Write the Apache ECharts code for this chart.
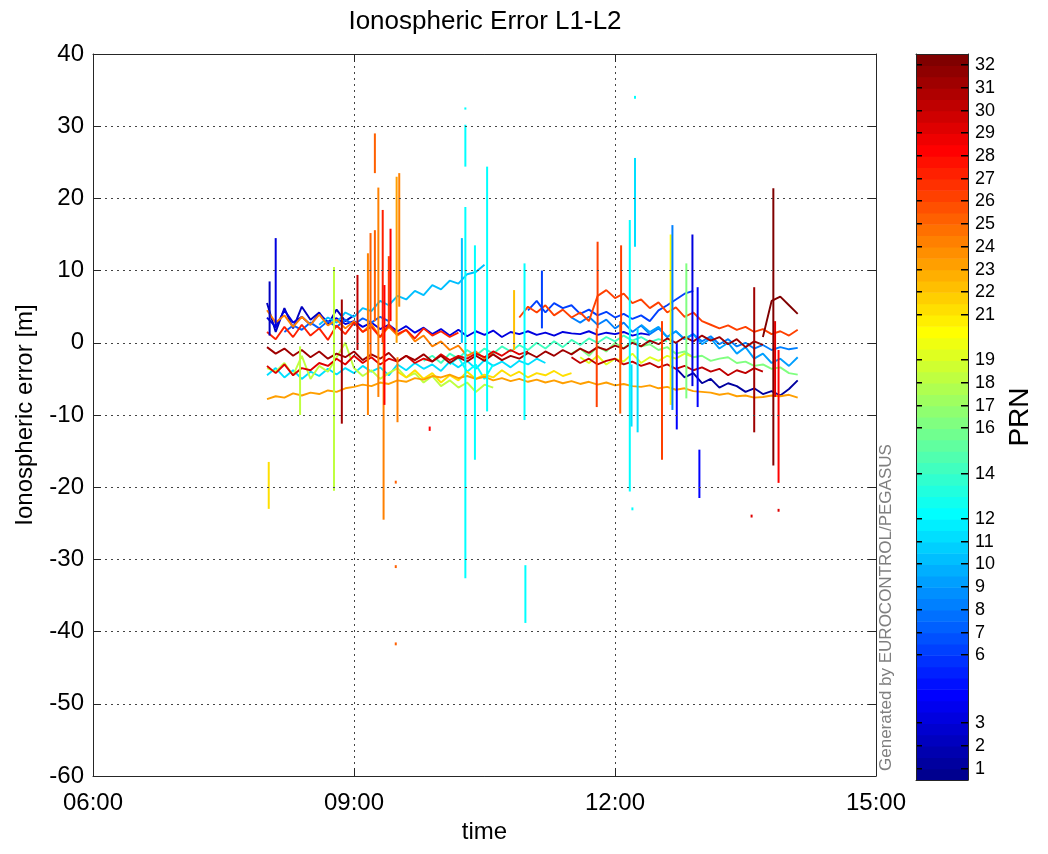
<!DOCTYPE html>
<html><head><meta charset="utf-8">
<script src="https://cdn.jsdelivr.net/npm/echarts@6/dist/echarts.min.js"></script>
<style>html,body{margin:0;padding:0;background:#fff}#c{width:1048px;height:854px}</style>
</head><body><div id="c"></div>
<script>
// ---------- axis / tick data ----------
const xTicksHours = [6, 9, 12, 15];
const yMin = -60, yMax = 40, yStep = 10;
const prnTicks = [1,2,3,6,7,8,9,10,11,12,14,16,17,18,19,21,22,23,24,25,26,27,28,29,30,31,32];
const timeStep = 0.1; // hours between samples of each track

// ---------- track values (ionospheric error, m), sampled every 0.1 h from start ----------
const startPRN01 = 12.7;
const valPRN01 = [-3.5,-4.8,-4.2,-5.6,-5.0,-6.2,-5.6,-6.0,-6.8,-6.3,-7.1,-6.7,-7.3,-6.4,-5.2];
const startPRN02 = 8.0;
const valPRN02 = [5.5,1.5,4.8,2.0,5.0,3.2,4.2,2.5,4.6,3.0,3.8];
const startPRN03 = 8.0;
const valPRN03 = [3.5,2.2,4.5,2.8,3.6,2.5,4.0,2.9,3.4,2.6,3.0,2.2,2.8,1.9,2.5,1.6,2.3,1.4,2.1,1.2,1.9,1.0,1.8,0.9,1.6,1.1,1.7,0.8,1.5,1.2,1.6,1.1,1.4,1.0,1.5,1.3,1.2,1.6,1.1,1.4,1.2,1.5,1.0,1.3,1.1];
const startPRN06 = 11.0;
const valPRN06 = [4.5,5.8,4.2,5.5,4.8,5.2,4.0,4.6,3.8,4.3,3.5,4.0,3.3,3.8,3.0,4.5,5.2,6.0,6.8,7.2];
const startPRN07 = 8.2;
const valPRN07 = [1.5,2.4,1.8,2.8,2.0,3.0,2.2,3.2,2.5,3.4,2.8,3.6,3.0];
const startPRN08 = 11.5;
const valPRN08 = [3.5,2.8,3.6,2.5,3.2,2.0,2.8,1.5,2.4,1.2,2.0,0.8,1.6,0.5,1.2,0.2,0.9,-0.2,0.5,-0.5,0.0,-0.8,-0.3,-1.0,-0.6,-0.9,-0.7];
const startPRN09 = 12.3;
const valPRN09 = [2.5,1.5,2.2,0.8,1.6,0.5,1.2,-0.2,0.6,-0.8,0.0,-1.5,-0.6,-2.2,-1.5,-2.8,-2.2,-3.2,-2.0];
const startPRN10 = 8.6;
const valPRN10 = [2.5,3.5,2.8,4.2,3.6,4.8,4.4,5.8,5.2,6.5,6.0,7.2,6.6,8.0,7.4,8.6,8.2,9.5,9.8,10.8];
const startPRN11 = 8.0;
const valPRN11 = [-4.5,-3.5,-4.8,-3.8,-5.0,-4.0,-4.6,-3.6,-4.4,-3.5,-4.2,-3.2,-4.0,-3.4,-4.5,-3.0,-3.8,-2.8,-3.6,-3.0,-3.9,-2.6,-3.4,-2.5,-3.6,-2.4,-3.2,-2.6,-3.4,-2.5,-3.0,-2.2,-2.8];
const startPRN12 = 10.1;
const valPRN12 = [-3.0,-2.0,-4.0,-3.0,-5.0,-3.0];
const startPRN14 = 9.8;
const valPRN14 = [-2.5,-1.8,-2.8,-1.5,-2.2,-1.0,-1.8,-0.8,-1.5,-0.5,-1.2,-0.3,-1.0,0.0,-0.8,0.2,-0.6,0.4,-0.3,0.6,0.0,0.8,0.2,1.0,0.3,0.8,0.1,0.5,0.2];
const startPRN16 = 11.5;
const valPRN16 = [-1.5,-0.8,-1.8,-0.5,-1.2,0.0,-0.8,0.3,-0.5,-0.2,-1.0,-0.6,-1.5,-1.2,-2.0,-1.8,-2.5,-2.2,-2.0,-2.8,-2.6,-3.2,-3.0,-3.6,-3.4,-4.2,-4.4];
const startPRN18 = 8.0;
const valPRN18 = [-3.5,-4.0,-2.8,-4.5,-1.8,-5.0,-3.2,-4.0,-2.0,0.0,-3.5,-4.6,-3.8,-5.0,-4.2,-3.5,-4.8,-4.2,-5.5,-4.6,-6.0,-5.2,-6.2,-5.5,-6.8,-5.8,-6.2];
const startPRN19 = 11.6;
const valPRN19 = [-2.0,-2.8,-1.8,-3.0,-2.2,-2.6,-1.5,-2.8,-2.0,-2.5,-1.8,-2.2,-1.5,-2.0];
const startPRN21 = 9.5;
const valPRN21 = [-4.0,-4.8,-3.8,-5.0,-4.2,-5.5,-4.5,-5.2,-4.0,-5.0,-4.4,-4.8,-3.8,-4.6,-4.0,-4.8,-4.2,-4.5,-3.9,-4.6,-4.2];
const startPRN23 = 8.0;
const valPRN23 = [-7.8,-7.4,-7.6,-7.0,-7.3,-6.9,-7.1,-6.6,-6.8,-6.3,-6.1,-5.8,-6.0,-5.5,-5.7,-5.2,-5.4,-4.9,-5.1,-4.6,-4.8,-4.4,-4.9,-4.6,-5.0,-4.7,-5.2,-4.9,-5.3,-5.0,-5.4,-5.1,-5.5,-5.2,-5.6,-5.3,-5.7,-5.4,-5.8,-5.5,-5.9,-5.7,-6.0,-6.1,-5.9,-6.3,-6.1,-6.5,-6.3,-6.7,-6.8,-6.9,-7.2,-7.0,-7.4,-7.3,-7.6,-7.5,-7.3,-7.4,-7.2,-7.6];
const startPRN24 = 8.0;
const valPRN24 = [4.5,2.8,3.8,2.2,3.6,2.5,3.9,2.4,3.2,2.0,3.0,1.5,2.6,0.8,2.2,1.0,1.8,0.2,1.0,-0.5,0.2,-1.0,-0.4,-1.8,-1.2,-2.2,-1.5];
const startPRN26 = 10.9;
const valPRN26 = [3.5,5.0,4.2,5.2,3.8,4.6,3.5,4.2,3.0,6.5,7.3,6.2,6.8,5.5,6.0,4.8,5.6,4.2,4.9,3.6,4.2,3.0,2.5,2.0,2.4,1.8,2.2,1.5,1.9,1.2,1.6,1.0,1.8];
const startPRN27 = 8.0;
const valPRN27 = [1.5,0.5,2.2,0.8,2.5,1.0,2.0,0.4,2.4,1.2,2.8,1.5,2.2,0.8,2.5,1.2,1.8,0.6,2.0,1.0,1.6,0.8,1.4];
const startPRN29 = 8.0;
const valPRN29 = [-3.2,-4.2,-3.0,-4.5,-3.5,-3.8,-2.8,-3.2,-2.2,-3.0,-1.8,-2.8,-2.0,-3.0,-2.2,-2.6,-1.8,-2.8,-2.2,-2.6,-1.6,-2.4,-1.8,-2.2,-1.5,-2.0,-1.2,-1.8,-1.0,-1.6,-1.2];
const startPRN30 = 11.5;
const valPRN30 = [-2.0,-2.8,-2.2,-3.0,-2.5,-2.2,-3.0,-2.6,-3.2,-2.8,-3.4,-3.0,-3.6,-3.2,-3.8,-3.4,-4.0,-3.6,-4.5,-3.8,-4.2,-3.5,-4.0];
const startPRN31 = 8.0;
const valPRN31 = [-0.6,-1.5,-0.8,-1.8,-1.0,-2.0,-1.2,-2.2,-1.5,-2.0,-1.2,-2.4,-1.6,-2.2,-1.4,-2.6,-1.8,-2.4,-1.6,-2.6,-1.8,-2.8,-2.0,-2.6,-1.8,-2.5,-1.6,-2.4,-1.8,-2.2,-1.4,-2.0,-1.2,-1.8,-1.0,-1.6,-0.8,-1.4,-0.6,-1.0,-0.4,-0.8,0.0,-0.5,0.3,-0.2,0.6,0.0,0.8,0.2,1.0,0.3,0.8,-0.2,0.5,-0.6,0.2,-0.3];
const startPRN32 = 13.7;
const valPRN32 = [0.8,5.8,6.4,5.2,4.0];

// ---------- spikes / outliers: time (h), low (m), high (m), PRN ----------
const spikeT   = [8.10,8.03,8.02,8.38,8.77,8.86,9.04,9.16,9.19,9.24,9.24,9.28,9.33,9.34,9.35,9.40,9.42,9.49,9.52,9.50,9.48,9.48,9.48,9.87,10.24,10.28,10.28,10.28,10.39,10.53,10.84,10.96,10.97,11.16,11.80,11.79,12.06,12.07,12.17,12.23,12.23,12.19,12.26,12.20,12.54,12.64,12.66,12.71,12.82,12.89,12.95,12.97,13.60,13.82,13.88,13.84,13.57,13.88];
const spikeLo  = [2,1,-23,-10,-20.5,-11.2,-1,-10,-2,23.5,3,-7.5,0,-24.5,-8.6,2,3,0,5,-11,-19.5,-31.2,-41.9,-12.2,0,-32.6,24.4,32.3,-16.2,-9.5,-1,-10.7,-38.8,2,2,-8.9,-9.8,-3,-20.6,13.3,33.8,-11.6,-12.4,-23.2,-16.2,-8.6,-9.3,-12,-7.7,-6,-8.9,-21.5,-12.4,-17,-19.4,-7.5,-24.2,-23.4];
const spikeHi  = [14.5,8.5,-16.5,-0.5,10.5,6,9.4,12.4,15.2,29,15.6,21.5,18.4,2,8,12,15.8,23,23.5,-2,-19.1,-30.8,-41.5,-11.6,14.5,18.8,30.2,32.6,13.5,24.4,7.3,11,-30.8,10,14,2,3,13.5,17,25.6,34.2,-3,2,-22.8,3,15,16.3,0,11,15,7.7,-14.8,7.7,21.4,-1,3,-23.8,-23.0];
const spikePRN = [3,2,21,18,18,31,30,24,25,25,25,24,27,24,28,26,28,23,24,24,25,25,25,28,10,12,12,12,12,12,22,12,12,6,26,26,25,26,12,11,12,11,11,12,26,20,8,4,16,3,4,4,31,32,28,29,29,29];

// ---------- jet colormap (64 rows, MATLAB style) ----------
function jetRow(k) {
  const u = j => (j < 1 || j > 47) ? 0 : (j <= 16 ? j / 16 : (j <= 31 ? 1 : (48 - j) / 16));
  const r = k >= 25 ? u(k - 24) : 0;
  const g = (k >= 9 && k <= 55) ? u(k - 8) : 0;
  const b = k <= 39 ? u(k + 8) : 0;
  return 'rgb(' + Math.round(r * 255) + ',' + Math.round(g * 255) + ',' + Math.round(b * 255) + ')';
}
const prnColor = p => jetRow(2 * p);

const tracks = [
  [1,startPRN01,valPRN01],[2,startPRN02,valPRN02],[3,startPRN03,valPRN03],[6,startPRN06,valPRN06],
  [7,startPRN07,valPRN07],[8,startPRN08,valPRN08],[9,startPRN09,valPRN09],[10,startPRN10,valPRN10],
  [11,startPRN11,valPRN11],[12,startPRN12,valPRN12],[14,startPRN14,valPRN14],[16,startPRN16,valPRN16],
  [18,startPRN18,valPRN18],[19,startPRN19,valPRN19],[21,startPRN21,valPRN21],[23,startPRN23,valPRN23],
  [24,startPRN24,valPRN24],[26,startPRN26,valPRN26],[27,startPRN27,valPRN27],[29,startPRN29,valPRN29],
  [30,startPRN30,valPRN30],[31,startPRN31,valPRN31],[32,startPRN32,valPRN32]
];

const series = tracks.map(([prn, t0, vals]) => ({
  type: 'line', xAxisIndex: 0, yAxisIndex: 0,
  data: vals.map((v, i) => [Math.round((t0 + i * timeStep) * 1000) / 1000, v]),
  showSymbol: false, symbol: 'none', silent: true, animation: false,
  lineStyle: { width: 1.9, color: prnColor(prn) }, itemStyle: { color: prnColor(prn) },
  z: 2 + prn / 100
}));

series.push({
  type: 'custom', xAxisIndex: 0, yAxisIndex: 0, silent: true, animation: false, z: 3,
  data: spikeT.map((t, i) => [t, spikeLo[i], spikeHi[i], spikePRN[i]]),
  encode: { x: 0, y: [1, 2] },
  renderItem: (params, api) => {
    const a = api.coord([api.value(0), api.value(1)]);
    const b = api.coord([api.value(0), api.value(2)]);
    return { type: 'line', shape: { x1: a[0], y1: a[1], x2: b[0], y2: b[1] },
      style: { stroke: prnColor(api.value(3)), lineWidth: 2 } };
  }
});

// colorbar bands (64 colormap rows over PRN 0.5..32.5); labelled PRNs get tick marks
const bandRows = Array.from({ length: 64 }, (_, i) => i + 1);
series.push({
  type: 'custom', xAxisIndex: 2, yAxisIndex: 2, silent: true, animation: false, z: 1,
  data: bandRows.map(k => [0, 0.5 + (k - 1) * 0.5, 0.5 + k * 0.5, k]),
  encode: { x: 0, y: [1, 2] },
  renderItem: (params, api) => {
    const k = api.value(3);
    const a = api.coord([0, api.value(1)]);
    const b = api.coord([1, api.value(2)]);
    const children = [{ type: 'rect', z2: 1, shape: { x: a[0], y: b[1], width: b[0] - a[0], height: a[1] - b[1] + 0.6 },
      style: { fill: jetRow(k) } }];
    if (k % 2 === 0 && prnTicks.indexOf(k / 2) >= 0) {
      const ty = Math.round(a[1]) - 1;
      children.push({ type: 'rect', z2: 50, shape: { x: a[0], y: ty, width: 6, height: 1.5 }, style: { fill: '#000' } });
      children.push({ type: 'rect', z2: 50, shape: { x: b[0] - 7, y: ty, width: 7, height: 1.5 }, style: { fill: '#000' } });
    }
    return { type: 'group', children: children };
  }
});

const FONT = 'Liberation Sans, Arial, sans-serif';
const lineC = '#262626';
const dotted = { show: true, lineStyle: { color: '#444', type: [2, 4], width: 1 } };

const option = {
  backgroundColor: '#fff',
  animation: false,
  textStyle: { fontFamily: FONT },
  grid: [
    { left: 93, top: 54, width: 783, height: 722 },
    { left: 916, top: 54, width: 52, height: 726 }
  ],
  xAxis: [
    { type: 'value', gridIndex: 0, min: 6, max: 15, interval: 3, position: 'bottom', z: 10,
      axisLine: { show: true, onZero: false, lineStyle: { color: lineC } },
      axisTick: { show: true, inside: true, length: 8, lineStyle: { color: lineC } },
      axisLabel: { color: '#000', fontSize: 24, margin: 15, fontFamily: FONT,
        formatter: v => (v < 10 ? '0' : '') + v + ':00' },
      splitLine: dotted,
      name: 'time', nameLocation: 'middle', nameGap: 44,
      nameTextStyle: { color: '#000', fontSize: 24, fontFamily: FONT } },
    { type: 'value', gridIndex: 0, min: 6, max: 15, interval: 3, position: 'top', z: 10,
      axisLine: { show: true, onZero: false, lineStyle: { color: lineC } },
      axisTick: { show: true, inside: true, length: 8, lineStyle: { color: lineC } },
      axisLabel: { show: false }, splitLine: { show: false } },
    { type: 'value', gridIndex: 1, min: 0, max: 1, position: 'bottom', z: 10,
      axisLine: { show: true, onZero: false, lineStyle: { color: lineC } },
      axisTick: { show: false }, axisLabel: { show: false }, splitLine: { show: false } },
    { type: 'value', gridIndex: 1, min: 0, max: 1, position: 'top', z: 10,
      axisLine: { show: true, onZero: false, lineStyle: { color: lineC } },
      axisTick: { show: false }, axisLabel: { show: false }, splitLine: { show: false } }
  ],
  yAxis: [
    { type: 'value', gridIndex: 0, min: yMin, max: yMax, interval: yStep, position: 'left', z: 10,
      axisLine: { show: true, onZero: false, lineStyle: { color: lineC } },
      axisTick: { show: true, inside: true, length: 8, lineStyle: { color: lineC } },
      axisLabel: { color: '#000', fontSize: 24, margin: 9, fontFamily: FONT },
      splitLine: dotted,
      name: 'Ionospheric error [m]', nameLocation: 'middle', nameGap: 56, nameRotate: 90,
      nameTextStyle: { color: '#000', fontSize: 24, fontFamily: FONT } },
    { type: 'value', gridIndex: 0, min: yMin, max: yMax, interval: yStep, position: 'right', z: 10,
      axisLine: { show: true, onZero: false, lineStyle: { color: lineC } },
      axisTick: { show: true, inside: true, length: 8, lineStyle: { color: lineC } },
      axisLabel: { show: false }, splitLine: { show: false } },
    { type: 'value', gridIndex: 1, min: 0.5, max: 32.5, position: 'right', z: 10,
      axisLine: { show: true, onZero: false, lineStyle: { color: lineC } },
      axisTick: { show: false },
      axisLabel: { color: '#000', fontSize: 18, margin: 7, customValues: prnTicks, fontFamily: FONT },
      splitLine: { show: false },
      name: 'PRN', nameLocation: 'middle', nameGap: 38, nameRotate: 90,
      nameTextStyle: { color: '#000', fontSize: 28, fontFamily: FONT } },
    { type: 'value', gridIndex: 1, min: 0.5, max: 32.5, position: 'left', z: 10,
      axisLine: { show: true, onZero: false, lineStyle: { color: lineC } },
      axisTick: { show: false }, axisLabel: { show: false }, splitLine: { show: false } }
  ],
  graphic: [
    { type: 'text', x: 485, y: 22, z: 10,
      style: { text: 'Ionospheric Error L1-L2', font: '26px ' + FONT, fill: '#000', textAlign: 'center', textVerticalAlign: 'middle' } },
    { type: 'text', x: 886, y: 771, rotation: Math.PI / 2, z: 10,
      style: { text: 'Generated by EUROCONTROL/PEGASUS', font: '17px ' + FONT, fill: '#7f7f7f', textAlign: 'left', textVerticalAlign: 'middle' } }
  ],
  series: series
};

const chart = echarts.init(document.getElementById('c'), null, { renderer: 'canvas' });
chart.setOption(option);
</script></body></html>
